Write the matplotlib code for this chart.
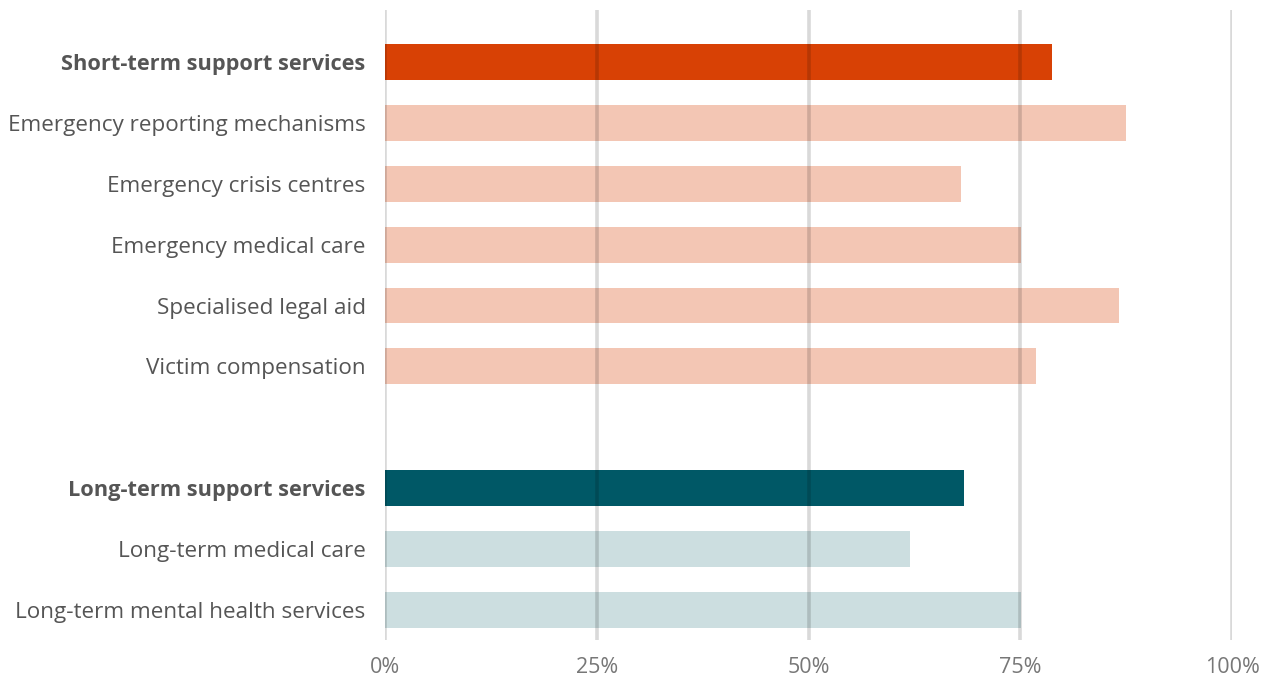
import matplotlib
matplotlib.use("Agg")
import matplotlib.pyplot as plt

categories = [
    "Short-term support services",
    "Emergency reporting mechanisms",
    "Emergency crisis centres",
    "Emergency medical care",
    "Specialised legal aid",
    "Victim compensation",
    "",
    "Long-term support services",
    "Long-term medical care",
    "Long-term mental health services",
]
values = [78.7, 87.5, 68.0, 75.1, 86.7, 76.9, None, 68.4, 62.0, 75.1]
bar_colors = ["#D84105", "#F3C6B4", "#F3C6B4", "#F3C6B4", "#F3C6B4", "#F3C6B4", None,
              "#005866", "#CCDEE0", "#CCDEE0"]
bold_rows = {0, 7}
xticks = [0, 25, 50, 75, 100]
xtick_labels = ["0%", "25%", "50%", "75%", "100%"]

plt.rcParams['font.family'] = ['Open Sans', 'DejaVu Sans']

fig = plt.figure(figsize=(12.68, 6.77), dpi=100)
ax = fig.add_axes([385 / 1268, 1 - 640 / 677, (1232 - 385) / 1268, 630 / 677])

for i, (v, c) in enumerate(zip(values, bar_colors)):
    if v is None:
        continue
    ax.barh(i, v, height=0.59, color=c, zorder=1)

for x in xticks:
    ax.axvline(x, color="black", alpha=0.15, linewidth=2.6, zorder=3)

ax.set_xlim(0, 100)
ax.set_ylim(9.49, -0.85)
ax.set_yticks(range(len(categories)))
ax.set_yticklabels(categories)
for i, lab in enumerate(ax.get_yticklabels()):
    lab.set_color("#555555")
    lab.set_fontsize(16.2)
    if i in bold_rows:
        lab.set_fontweight("bold")
        lab.set_fontsize(15.7)
ax.set_xticks(xticks)
ax.set_xticklabels(xtick_labels, color="#777777", fontsize=15.5)
ax.tick_params(axis="y", length=0, pad=14)
ax.tick_params(axis="x", length=0, pad=12)
for s in ax.spines.values():
    s.set_visible(False)

fig.savefig("out.png", dpi=100)
